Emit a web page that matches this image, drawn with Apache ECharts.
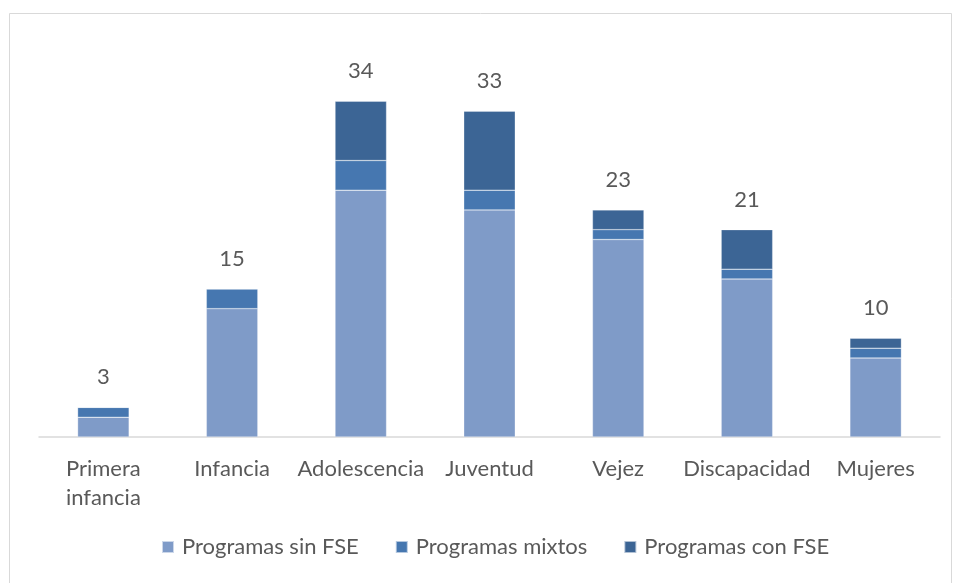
<!DOCTYPE html>
<html>
<head>
<meta charset="utf-8">
<script src="https://cdn.jsdelivr.net/npm/echarts@6/dist/echarts.min.js"></script>
<style>
  html, body { margin: 0; padding: 0; background: #fff; }
  #chart { width: 956px; height: 583px; }
</style>
</head>
<body>
<div id="chart"></div>
<script>
// categorias y valores
const categories = ['Primera\ninfancia', 'Infancia', 'Adolescencia', 'Juventud', 'Vejez', 'Discapacidad', 'Mujeres']
const sinFSE = [2, 13, 25, 23, 20, 16, 8]
const mixtos = [1, 2, 3, 2, 1, 1, 1]
const conFSE = [0, 0, 6, 8, 2, 4, 1]
const totals = categories.map((c, i) => sinFSE[i] + mixtos[i] + conFSE[i])

const font = 'Lato, "Noto Sans", sans-serif'
const textColor = '#595959'

const myChart = echarts.init(document.getElementById('chart'))

function stackSeries(name, data, color) {
    return {
        name,
        type: 'bar',
        stack: 'total',
        barWidth: '40%',
        itemStyle: { color, borderColor: 'rgba(255,255,255,0.6)', borderWidth: 0.5 },
        data
    }
}

let option = {
    animation: false,
    backgroundColor: '#fff',
    textStyle: { fontFamily: font },
    graphic: [{
        type: 'rect',
        shape: { x: 9.5, y: 13.5, width: 942, height: 580 },
        style: { fill: 'none', stroke: '#d9d9d9', lineWidth: 1 },
        silent: true
    }],
    grid: { left: 39, right: 16, top: 42, bottom: 146 },
    legend: {
        data: ['Programas sin FSE', 'Programas mixtos', 'Programas con FSE'],
        bottom: 20,
        left: 156,
        icon: 'rect',
        itemWidth: 12,
        itemHeight: 12,
        itemGap: 36,
        textStyle: { color: textColor, fontSize: 22, fontFamily: font, padding: [0, 0, 0, 3] }
    },
    xAxis: {
        type: 'category',
        data: categories,
        axisLine: { lineStyle: { color: '#d9d9d9', width: 1.5 } },
        axisTick: { show: false },
        axisLabel: {
            color: textColor,
            fontSize: 22,
            fontFamily: font,
            margin: 17,
            lineHeight: 29,
            interval: 0
        }
    },
    yAxis: {
        type: 'value',
        min: 0,
        max: 40,
        show: false,
        splitLine: { show: false }
    },
    series: [
        stackSeries('Programas sin FSE', sinFSE, '#7f9bc8'),
        stackSeries('Programas mixtos', mixtos, '#4677b0'),
        stackSeries('Programas con FSE', conFSE, '#3c6595'),
        {
            name: 'Total',
            type: 'bar',
            barWidth: '40%',
            barGap: '-100%',
            silent: true,
            itemStyle: { color: 'rgba(0,0,0,0)' },
            label: {
                show: true,
                position: 'top',
                distance: 19,
                color: textColor,
                fontSize: 22,
                fontFamily: font
            },
            data: totals
        }
    ]
}

myChart.setOption(option, true)
</script>
</body>
</html>
